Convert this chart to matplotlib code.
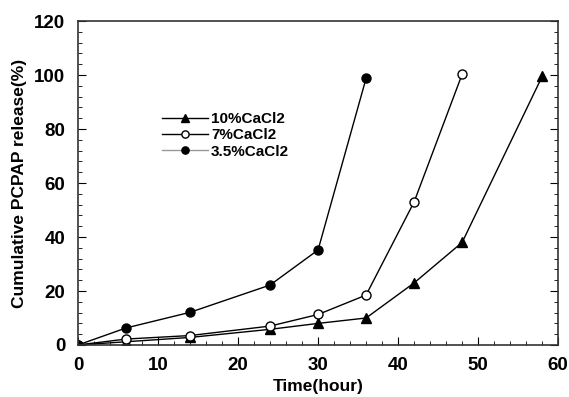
import numpy as np
import matplotlib
matplotlib.use('Agg')
from matplotlib import pyplot as plt
from matplotlib.ticker import MultipleLocator

plt.rcParams['font.family'] = ['Liberation Sans', 'DejaVu Sans']
plt.rcParams['font.weight'] = 'bold'

# data
t_10 = [0, 6, 14, 24, 30, 36, 42, 48, 58]
rel_10 = [0, 1.2, 2.8, 5.8, 8, 10, 23, 38, 99.5]

t_7 = [0, 6, 14, 24, 30, 36, 42, 48]
rel_7 = [0, 2.2, 3.5, 7, 11.3, 18.5, 53, 100.3]

t_35 = [0, 6, 14, 24, 30, 36]
rel_35 = [0, 6.3, 12.1, 22.2, 35.2, 98.8]

fig = plt.figure(figsize=(5.69, 3.97), dpi=100)
ax = fig.add_axes([0.137, 0.131, 0.844, 0.816])

ax.plot(t_10, rel_10, 'k-^', ms=6.5, lw=1, label='10%CaCl2')
ax.plot(t_7, rel_7, 'k-o', ms=6.5, lw=1, mfc='white', label='7%CaCl2')
ax.plot(t_35, rel_35, 'k-o', ms=6.5, lw=1, label='3.5%CaCl2')

ax.set_xlim(0, 60)
ax.set_ylim(0, 120)
ax.xaxis.set_major_locator(MultipleLocator(10))
ax.xaxis.set_minor_locator(MultipleLocator(2))
ax.yaxis.set_major_locator(MultipleLocator(20))
ax.yaxis.set_minor_locator(MultipleLocator(4))
ax.tick_params(which='both', direction='in', right=True, labelsize=13.5, pad=9)
ax.tick_params(which='major', length=6)
ax.tick_params(which='minor', length=3)
for s in ax.spines.values():
    s.set_linewidth(1.2)
    s.set_color('#333333')

ax.set_xlabel('Time(hour)', fontsize=12.5, fontweight='bold', labelpad=3)
ax.set_ylabel('Cumulative PCPAP release(%)', fontsize=12.5, fontweight='bold', labelpad=5)

leg = ax.legend(loc='upper left', bbox_to_anchor=(0.1625, 0.738), frameon=False,
                fontsize=11, handlelength=3.0, handletextpad=0.2,
                labelspacing=0.15, borderaxespad=0, markerscale=0.8)
leg.get_lines()[2].set_color('#999999')
leg.get_lines()[2].set_markerfacecolor('black')
leg.get_lines()[2].set_markeredgecolor('black')

fig.savefig('out.png', dpi=100)
